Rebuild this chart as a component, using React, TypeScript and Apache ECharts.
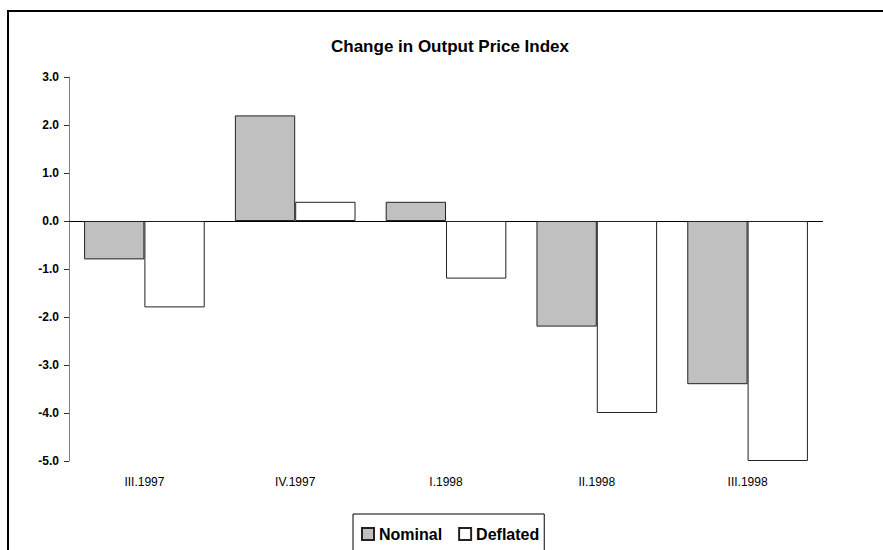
import React, { useEffect, useRef } from "react";
import * as echarts from "echarts";

const categories = ["III.1997", "IV.1997", "I.1998", "II.1998", "III.1998"];
const nominal = [-0.8, 2.2, 0.4, -2.2, -3.4];
const deflated = [-1.8, 0.4, -1.2, -4.0, -5.0];
const titleText = "Change in Output Price Index";

const FONT = "'Liberation Sans', Arial, sans-serif";

export default function App() {
  const ref = useRef<HTMLDivElement>(null);
  useEffect(() => {
    if (!ref.current) return;
    const chart = echarts.init(ref.current, null, { renderer: "svg" });
    chart.setOption({
      animation: false,
      backgroundColor: "#ffffff",
      textStyle: { fontFamily: FONT },
      title: {
        text: titleText,
        left: 326,
        top: 33,
        textStyle: { fontFamily: FONT, fontSize: 17, fontWeight: "bold", color: "#000" },
      },
      graphic: [
        {
          type: "rect",
          shape: { x: 8, y: 11, width: 1000, height: 1000 },
          style: { fill: "none", stroke: "#000", lineWidth: 2 },
          silent: true,
        },
      ],
      legend: {
        left: 353,
        top: 514,
        padding: [12, 5, 12, 8],
        itemWidth: 12,
        itemHeight: 12,
        itemGap: 16,
        icon: "rect",
        borderColor: "#000",
        borderWidth: 1,
        backgroundColor: "#fff",
        textStyle: { fontFamily: FONT, fontSize: 16, fontWeight: "bold", color: "#000" },
        data: ["Nominal", "Deflated"],
      },
      grid: { left: 69, right: 60, top: 77, height: 384, containLabel: false },
      xAxis: {
        type: "category",
        data: categories,
        axisLine: { show: false, onZero: false },
        axisTick: { show: false },
        axisLabel: { margin: 15, fontSize: 12, color: "#000", fontFamily: FONT },
      },
      yAxis: {
        type: "value",
        min: -5,
        max: 3,
        interval: 1,
        axisLine: { show: true, lineStyle: { color: "#808080", width: 1 } },
        axisTick: { show: true, length: 5, lineStyle: { color: "#333" } },
        splitLine: { show: false },
        axisLabel: {
          margin: 10,
          fontSize: 12,
          fontWeight: "bold",
          color: "#000",
          fontFamily: FONT,
          formatter: (v: number) => v.toFixed(1),
        },
      },
      series: [
        {
          name: "Nominal",
          type: "bar",
          data: nominal,
          barGap: "0%",
          barCategoryGap: "20%",
          itemStyle: { color: "#c0c0c0", borderColor: "#222", borderWidth: 1 },
          markLine: {
            silent: true,
            symbol: "none",
            label: { show: false },
            lineStyle: { color: "#000", width: 1, type: "solid" },
            data: [{ yAxis: 0 }],
            z: 1,
          },
        },
        {
          name: "Deflated",
          type: "bar",
          data: deflated,
          barGap: "0%",
          barCategoryGap: "20%",
          itemStyle: { color: "#ffffff", borderColor: "#222", borderWidth: 1 },
        },
      ],
    });
    return () => chart.dispose();
  }, []);
  return (
    <div
      ref={ref}
      style={{ position: "fixed", left: 0, top: 0, width: 883, height: 550 }}
    />
  );
}
